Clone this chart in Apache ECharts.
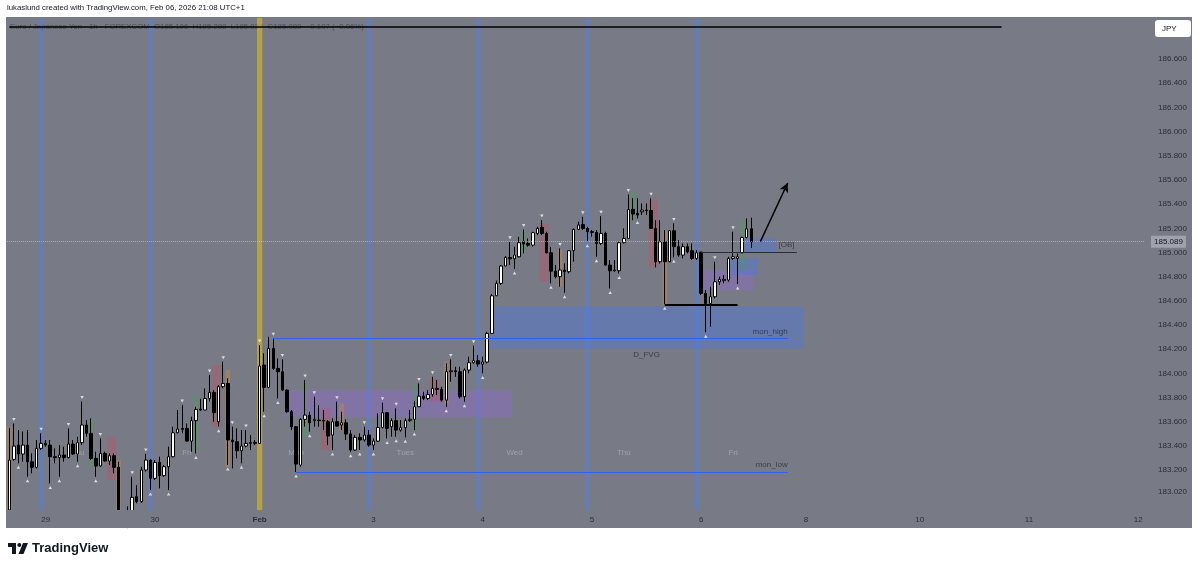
<!DOCTYPE html>
<html>
<head>
<meta charset="utf-8">
<title>EURJPY 1h</title>
<script src="https://cdn.jsdelivr.net/npm/echarts@6/dist/echarts.min.js"></script>
<style>
    html, body { margin: 0; padding: 0; background: #fff; }
    #chart { width: 1200px; height: 568px; }
</style>
</head>
<body>
<div id="chart"></div>
<script>
    // 1h 蜡烛, 下标 = K线序号 (0 = 画面最左边那根)
    var opens = [
        182.870,183.289,183.407,183.333,183.407,183.269,183.223,183.380,183.421,183.407,
        183.311,183.303,183.325,183.303,183.416,183.333,183.427,183.573,183.504,183.297,
        183.234,183.338,183.275,183.319,183.223,182.800,182.750,182.840,182.980,182.939,
        183.201,183.283,183.132,183.264,183.154,183.228,183.311,183.509,183.545,183.545,
        183.440,183.609,183.705,183.697,183.793,183.843,183.600,183.890,183.917,183.449,
        183.435,183.360,183.399,183.421,183.429,183.421,184.069,183.884,184.207,184.041,
        184.014,183.862,183.683,183.559,183.242,183.620,183.655,183.609,183.614,183.609,
        183.600,183.490,183.600,183.573,183.592,183.498,183.366,183.471,183.449,183.490,
        183.407,183.440,183.553,183.675,183.559,183.609,183.531,183.551,183.609,183.620,
        183.724,183.812,183.793,183.826,183.876,183.868,183.779,184.014,184.022,184.014,
        183.807,184.028,184.088,184.105,184.077,184.094,184.331,184.642,184.745,184.888,
        184.959,184.948,184.965,185.089,185.075,185.061,185.158,185.208,185.158,184.998,
        184.846,184.800,184.855,184.841,185.015,185.191,185.232,185.199,185.172,185.167,
        185.075,185.158,184.896,184.849,184.849,185.081,185.117,185.357,185.324,185.337,
        185.351,185.348,185.199,184.924,185.089,184.924,185.180,185.048,184.979,185.048,
        185.015,184.951,185.004,184.662,184.579,184.634,184.758,184.767,184.772,184.951,
        184.951,184.998,185.125,185.196
    ];
    var highs = [
        183.550,183.586,183.531,183.520,183.531,183.338,183.449,183.504,183.449,183.449,
        183.380,183.407,183.394,183.545,183.449,183.476,183.768,183.614,183.628,183.352,
        183.462,183.352,183.338,183.338,183.269,182.840,182.900,183.145,183.076,183.228,
        183.333,183.289,183.283,183.311,183.242,183.394,183.559,183.697,183.738,183.586,
        183.642,183.724,183.790,183.876,183.986,183.862,183.904,184.097,183.959,183.559,
        183.545,183.531,183.531,183.490,183.449,184.234,184.166,184.303,184.290,184.124,
        184.116,183.868,183.697,183.565,183.628,183.945,183.683,183.807,183.738,183.697,
        183.614,183.628,183.766,183.683,183.620,183.531,183.490,183.504,183.559,183.531,
        183.462,183.669,183.757,183.680,183.628,183.711,183.614,183.628,183.697,183.774,
        183.917,183.848,183.862,183.972,183.945,183.890,184.083,184.116,184.055,184.055,
        184.041,184.138,184.229,184.152,184.138,184.345,184.656,184.767,184.896,184.971,
        185.089,185.048,185.130,185.191,185.117,185.172,185.213,185.268,185.172,185.048,
        184.896,185.034,184.910,185.020,185.199,185.255,185.296,185.213,185.186,185.186,
        185.301,185.172,184.937,184.937,185.089,185.199,185.480,185.450,185.448,185.406,
        185.406,185.448,185.268,185.268,185.186,185.186,185.241,185.103,185.075,185.075,
        185.075,185.020,185.006,184.690,184.717,184.924,184.800,184.813,184.965,185.172,
        184.993,185.131,185.282,185.288
    ];
    var lows = [
        182.856,183.278,183.256,183.269,183.145,183.173,183.214,183.366,183.394,183.090,
        183.256,183.145,183.269,183.297,183.325,183.269,183.407,183.476,183.283,183.145,
        183.228,183.269,183.242,183.173,182.760,182.700,182.720,182.820,182.925,182.930,
        183.187,183.035,183.118,183.049,183.145,183.035,183.305,183.504,183.504,183.435,
        183.352,183.338,183.690,183.697,183.766,183.600,183.559,183.876,183.242,183.214,
        183.297,183.256,183.388,183.366,183.407,183.416,183.683,183.876,184.028,183.793,
        183.855,183.675,183.531,183.184,183.228,183.559,183.518,183.559,183.559,183.531,
        183.407,183.366,183.559,183.531,183.449,183.352,183.360,183.366,183.435,183.394,
        183.366,183.435,183.545,183.462,183.476,183.476,183.518,183.471,183.600,183.531,
        183.724,183.779,183.779,183.807,183.821,183.766,183.724,183.931,183.972,183.793,
        183.766,184.000,184.083,184.055,184.000,184.083,184.331,184.642,184.731,184.888,
        184.896,184.863,184.959,184.993,185.048,185.048,185.144,185.144,184.993,184.745,
        184.786,184.717,184.667,184.827,184.924,185.186,185.186,185.089,185.130,184.965,
        185.061,184.890,184.703,184.841,184.827,185.075,185.117,185.268,185.282,185.310,
        185.310,185.195,184.877,184.910,184.572,184.920,184.960,184.965,184.951,184.993,
        184.938,184.938,184.648,184.340,184.386,184.620,184.731,184.745,184.758,184.938,
        184.740,184.993,185.117,185.037
    ];
    var closes = [
        183.283,183.399,183.333,183.407,183.269,183.223,183.380,183.421,183.407,183.311,
        183.303,183.325,183.303,183.416,183.333,183.427,183.573,183.504,183.297,183.234,
        183.338,183.275,183.319,183.223,182.800,182.750,182.800,182.975,182.939,183.201,
        183.283,183.132,183.264,183.154,183.228,183.311,183.509,183.540,183.537,183.440,
        183.609,183.702,183.697,183.793,183.843,183.675,183.890,183.917,183.449,183.435,
        183.360,183.399,183.421,183.429,183.421,184.061,183.884,184.207,184.041,184.014,
        183.862,183.683,183.559,183.250,183.620,183.655,183.592,183.620,183.609,183.606,
        183.482,183.600,183.564,183.592,183.498,183.366,183.471,183.449,183.490,183.407,
        183.440,183.553,183.675,183.545,183.609,183.531,183.551,183.609,183.620,183.724,
        183.812,183.793,183.826,183.876,183.868,183.779,184.014,184.022,184.014,183.807,
        184.028,184.088,184.105,184.077,184.094,184.331,184.642,184.745,184.888,184.959,
        184.948,184.979,185.081,185.070,185.061,185.164,185.199,185.158,184.998,184.846,
        184.800,184.855,184.841,185.015,185.191,185.227,185.199,185.172,185.167,185.075,
        185.158,184.896,184.849,184.855,185.081,185.117,185.356,185.318,185.310,185.351,
        185.348,185.199,184.924,185.089,184.924,185.180,185.048,184.979,185.048,185.006,
        184.951,184.998,184.662,184.579,184.634,184.758,184.778,184.778,184.951,184.965,
        184.965,185.125,185.196,185.089
    ];

    // 时间轴: 总格数(含右侧空白), 日期刻度
    var slotCount = 250;
    var dayTickIdx = [8, 32, 55, 80, 104, 128, 152, 175, 200, 224, 248];
    var dayTickText = ['29', '30', 'Feb', '3', '4', '5', '6', '8', '10', '11', '12'];

    // 价格轴
    var yMin = 182.87;
    var yMax = 186.94;
    var yTicks = [183.02, 183.2, 183.4, 183.6, 183.8, 184.0, 184.2, 184.4, 184.6, 184.8,
                  185.0, 185.2, 185.4, 185.6, 185.8, 186.0, 186.2, 186.4, 186.6];
    var lastPrice = 185.089;

    // 每日分隔竖条
    var sessionIdx = [7, 31, 79, 103, 127, 151];
    var monthIdx = [55];

    // 区域框 [起, 止, 下沿, 上沿, 类型]
    var zones = [
        [61, 110, 183.639, 183.862, 'purple'],
        [106, 174, 184.205, 184.555, 'blue'],
        [153, 163, 184.690, 184.855, 'purple'],
        [158, 164, 184.814, 184.954, 'blue'],
        [161, 168, 185.004, 185.120, 'blue']
    ];

    // K线高亮 [起, 止, 下沿, 上沿, 颜色]
    var highlights = [
        [0, 0, 182.870, 183.559, 'brown'],
        [18, 18, 183.228, 183.628, 'green'],
        [22, 23, 183.118, 183.476, 'red'],
        [24, 24, 182.800, 183.283, 'brown'],
        [41, 41, 183.352, 183.821, 'green'],
        [45, 46, 183.559, 184.069, 'red'],
        [48, 48, 183.228, 184.028, 'brown'],
        [65, 65, 183.476, 183.917, 'green'],
        [69, 70, 183.366, 183.711, 'red'],
        [73, 73, 183.531, 183.752, 'brown'],
        [89, 89, 183.531, 183.904, 'green'],
        [93, 94, 183.766, 183.959, 'red'],
        [96, 96, 183.738, 184.097, 'brown'],
        [113, 113, 184.993, 185.172, 'green'],
        [117, 118, 184.758, 185.241, 'red'],
        [121, 121, 184.717, 185.020, 'brown'],
        [137, 137, 185.268, 185.503, 'green'],
        [141, 142, 184.877, 185.439, 'red'],
        [144, 144, 184.563, 185.186, 'brown'],
        [161, 161, 184.855, 185.282, 'green']
    ];

    // 摆动高低点标记
    var swingHighIdx = [1, 7, 13, 16, 20, 27, 30, 38, 44, 47, 49, 52, 55, 58, 60, 65, 67, 72, 78, 82,
                        85, 90, 93, 97, 102, 110, 113, 117, 121, 126, 130, 136, 141, 146, 155, 159];
    var swingLowIdx = [2, 4, 9, 11, 15, 19, 31, 35, 41, 46, 48, 51, 56, 59, 63, 66, 71, 75, 77, 80,
                       83, 85, 87, 89, 96, 100, 104, 111, 119, 122, 127, 129, 132, 134, 138, 144, 146, 153, 160];

    // 水平线 [起, 止, 价格, 样式]
    var levels = [
        [0, 218, 186.865, 'top'],
        [58, 171, 184.290, 'mon'],
        [63, 171, 183.184, 'mon'],
        [144, 160, 184.572, 'bold'],
        [152, 173, 185.004, 'thin']
    ];
    var arrowFrom = [165, 185.090];
    var arrowTo = [171, 185.575];

    // 文字标注 [位置, 价格, 文字, 对齐]
    var notes = [
        [169, 185.062, '[OB]', 'left'],
        [171, 184.342, 'mon_high', 'right'],
        [140, 184.152, 'D_FVG', 'center'],
        [171, 183.242, 'mon_low', 'right']
    ];
    var dayNamePrice = 183.341;
    var dayNames = [[15, 'Thu'], [39, 'Fri'], [63, 'Mon'], [87, 'Tues'], [111, 'Wed'], [135, 'Thu'], [159, 'Fri']];

    var FONT = '"Liberation Sans", Arial, sans-serif';
    var PANE = '#787b86';
    var fills = {
        purple: 'rgba(150,100,225,0.32)',
        blue: 'rgba(70,120,240,0.36)',
        red: 'rgba(195,75,95,0.35)',
        green: 'rgba(60,170,80,0.30)',
        brown: 'rgba(200,140,70,0.42)'
    };

    var chart = echarts.init(document.getElementById('chart'));

    var slots = [];
    for (var i = 0; i < slotCount; i++) slots.push(String(i));

    var candles = opens.map(function (o, i) {
        return [o, closes[i], lows[i], highs[i]];
    });

    function boxRender(list) {
        return function (params, api) {
            var row = list[params.dataIndex];
            var w = api.size([1, 0])[0];
            var a = api.coord([row[0], row[3]]);
            var b = api.coord([row[1], row[2]]);
            return {
                type: 'rect',
                shape: { x: a[0] - w / 2, y: a[1], width: b[0] - a[0] + w, height: b[1] - a[1] },
                style: { fill: fills[row[4]] }
            };
        };
    }

    function bandRender(color) {
        return function (params, api) {
            var x = api.coord([api.value(0), yMax])[0];
            var cs = params.coordSys;
            return {
                type: 'rect',
                shape: { x: x - 2.6, y: cs.y, width: 5.2, height: cs.height },
                style: { fill: color }
            };
        };
    }

    var levelStyle = {
        top: { color: '#000000', width: 1.5 },
        mon: { color: '#2f62e8', width: 1 },
        bold: { color: '#000000', width: 2 },
        thin: { color: '#2a2d36', width: 1 }
    };

    var lineData = [{
        yAxis: lastPrice,
        lineStyle: { type: 'dotted', color: 'rgba(215,217,225,0.5)', width: 1 },
        label: {
            show: true, position: 'end', distance: 6,
            formatter: lastPrice.toFixed(3),
            backgroundColor: '#a0a3ad', color: '#131722',
            fontSize: 8, fontFamily: FONT, padding: [2, 3, 2, 3]
        }
    }];
    levels.forEach(function (l) {
        lineData.push([
            { coord: [l[0], l[2]], lineStyle: { type: 'solid', color: levelStyle[l[3]].color, width: levelStyle[l[3]].width } },
            { coord: [l[1], l[2]] }
        ]);
    });
    lineData.push([
        { coord: arrowFrom, symbol: 'none', lineStyle: { type: 'solid', color: '#000000', width: 1.5 } },
        { coord: arrowTo, symbol: 'arrow', symbolSize: [7, 9] }
    ]);

    var option = {
        backgroundColor: '#ffffff',
        animation: false,
        textStyle: { fontFamily: FONT },
        grid: { left: 7, right: 55, top: 18, height: 492 },
        xAxis: {
            type: 'category',
            z: 10,
            data: slots,
            boundaryGap: true,
            axisLine: { show: false },
            axisTick: { show: false },
            splitLine: { show: false },
            axisLabel: {
                margin: 6,
                fontSize: 8,
                color: '#2a2e39',
                interval: function (index) {
                    return dayTickIdx.indexOf(index) >= 0;
                },
                formatter: function (value, index) {
                    var k = dayTickIdx.indexOf(index);
                    if (k < 0) return '';
                    var t = dayTickText[k];
                    return t === 'Feb' ? '{b|' + t + '}' : t;
                },
                rich: { b: { fontWeight: 'bold', fontSize: 8, color: '#2a2e39' } }
            }
        },
        yAxis: {
            type: 'value',
            position: 'right',
            z: 10,
            min: yMin,
            max: yMax,
            axisLine: { show: false },
            axisTick: { show: false },
            splitLine: { show: false },
            axisLabel: {
                customValues: yTicks,
                formatter: function (v) { return v.toFixed(3); },
                align: 'right',
                margin: 42,
                fontSize: 8,
                color: '#2a2e39'
            }
        },
        graphic: [
            { type: 'rect', z: -10, silent: true, shape: { x: 6, y: 17, width: 1186, height: 511 }, style: { fill: PANE } },
            // 时间轴区域盖住超出底部的K线
            { type: 'rect', z: 8, silent: true, shape: { x: 6, y: 510, width: 1140, height: 18 }, style: { fill: PANE } },
            { type: 'text', x: 7, y: 8, silent: true, style: { text: 'lukaslund created with TradingView.com, Feb 06, 2026 21:08 UTC+1', fill: '#131722', fontSize: 7.8, fontFamily: FONT, verticalAlign: 'middle' } },
            { type: 'text', x: 10, y: 27, z: 1, silent: true, style: { text: 'Euro / Japanese Yen \u00b7 1h \u00b7 FOREXCOM  O185.196  H185.288  L185.037  C185.089  \u22120.107 (\u22120.06%)', fill: '#4a4d58', fontSize: 7.8, fontFamily: FONT, verticalAlign: 'middle' } },
            { type: 'rect', z: 20, silent: true, shape: { x: 1155, y: 20, width: 36, height: 17, r: 3 }, style: { fill: '#ffffff' } },
            { type: 'text', x: 1162, y: 28.5, z: 21, silent: true, style: { text: 'JPY', fill: '#131722', fontSize: 8, fontFamily: FONT, verticalAlign: 'middle' } },
            // logo
            { type: 'rect', silent: true, shape: { x: 8, y: 543, width: 8, height: 4 }, style: { fill: '#131722' } },
            { type: 'rect', silent: true, shape: { x: 12, y: 543, width: 4, height: 11 }, style: { fill: '#131722' } },
            { type: 'circle', silent: true, shape: { cx: 19.3, cy: 545, r: 2 }, style: { fill: '#131722' } },
            { type: 'polygon', silent: true, shape: { points: [[23, 543], [28, 543], [23.5, 554], [18.5, 554]] }, style: { fill: '#131722' } },
            { type: 'text', x: 32, y: 548.5, silent: true, style: { text: 'TradingView', fill: '#131722', fontSize: 13, fontWeight: 'bold', fontFamily: FONT, verticalAlign: 'middle' } }
        ],
        series: [
            {
                name: 'sessions', type: 'custom', z: 1, silent: true,
                renderItem: bandRender('rgba(80,130,235,0.38)'),
                data: sessionIdx.map(function (i) { return [i, yMax]; })
            },
            {
                name: 'month', type: 'custom', z: 1, silent: true,
                renderItem: bandRender('rgba(225,190,30,0.58)'),
                data: monthIdx.map(function (i) { return [i, yMax]; })
            },
            {
                name: 'zones', type: 'custom', z: 1, silent: true,
                renderItem: boxRender(zones),
                data: zones.map(function (r) { return [r[0], r[3]]; })
            },
            {
                name: 'highlights', type: 'custom', z: 1, silent: true,
                renderItem: boxRender(highlights),
                data: highlights.map(function (r) { return [r[0], r[3]]; })
            },
            {
                name: 'days', type: 'scatter', z: 1, silent: true,
                symbolSize: 0,
                label: {
                    show: true, position: 'inside', fontSize: 8, color: 'rgba(200,202,210,0.6)',
                    formatter: function (p) { return dayNames[p.dataIndex][1]; }
                },
                data: dayNames.map(function (d) { return [d[0], dayNamePrice]; })
            },
            {
                name: 'EURJPY', type: 'candlestick', z: 3,
                barWidth: 3,
                itemStyle: {
                    color: '#ffffff', color0: '#000000',
                    borderColor: '#000000', borderColor0: '#000000', borderWidth: 1
                },
                data: candles,
                markLine: {
                    silent: true,
                    symbol: ['none', 'none'],
                    label: { show: false },
                    data: lineData
                }
            },
            {
                name: 'swingHigh', type: 'scatter', z: 4, silent: true,
                symbol: 'triangle', symbolSize: [3.5, 3], symbolRotate: 180, symbolOffset: [0, -4],
                itemStyle: { color: '#f4f4f6' },
                data: swingHighIdx.map(function (i) { return [i, highs[i]]; })
            },
            {
                name: 'swingLow', type: 'scatter', z: 4, silent: true,
                symbol: 'triangle', symbolSize: [3.5, 3], symbolOffset: [0, 4],
                itemStyle: { color: '#f4f4f6' },
                data: swingLowIdx.map(function (i) { return [i, lows[i]]; })
            },
            {
                name: 'notes', type: 'scatter', z: 5, silent: true,
                symbolSize: 0,
                data: notes.map(function (n) {
                    return {
                        value: [n[0], n[1]],
                        label: {
                            show: true, position: 'inside', align: n[3], fontSize: 8,
                            color: '#2a2e39', formatter: n[2]
                        }
                    };
                })
            }
        ]
    };

    chart.setOption(option);
</script>
</body>
</html>
